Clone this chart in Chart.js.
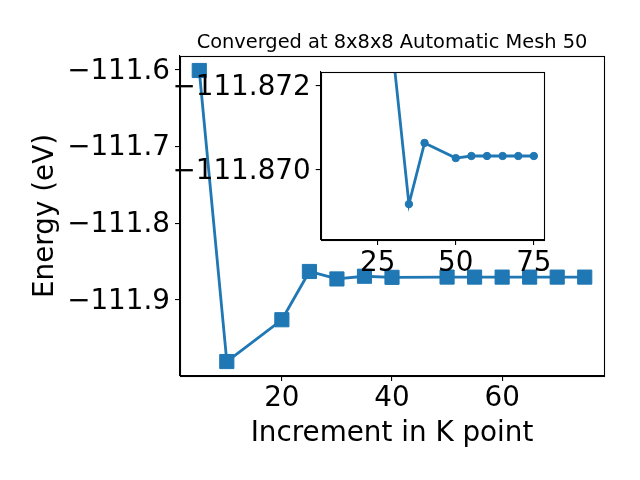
<!DOCTYPE html>
<html>
<head>
<meta charset="utf-8">
<script src="https://cdn.jsdelivr.net/npm/chart.js@4.4.1/dist/chart.umd.min.js"></script>
<style>
  body { margin: 0; background: #fff; }
  #wrap { position: relative; width: 640px; height: 480px; }
  #wrap canvas { position: absolute; left: 0; top: 0; }
</style>
</head>
<body>
<div id="wrap">
  <canvas id="mainChart" width="640" height="480"></canvas>
  <canvas id="insetChart" width="640" height="480"></canvas>
</div>
<script>
// --- Data ---
const kPoints = [5, 10, 20, 25, 30, 35, 40, 50, 55, 60, 65, 70, 75];
const energy = [-111.6015, -111.9802, -111.9258, -111.8630, -111.8727, -111.86919, -111.87064,
                -111.87028, -111.87033, -111.87033, -111.87033, -111.87033, -111.87033];
const mainXTicks = [20, 40, 60];
const mainYTicks = [-111.6, -111.7, -111.8, -111.9];
const insetStart = 4; // inset shows points from k = 30 on
const insetXTicks = [25, 50, 75];
const insetYTicks = [-111.872, -111.870];

const BLUE = '#1f77b4';
const FONT = 'DejaVu Sans';
const TICK_PX = 27.8;
Chart.defaults.font.family = FONT;
Chart.defaults.color = '#000';

const minus = (v, d) => v.toFixed(d).replace('-', '\u2212');

// white plot area + full frame like matplotlib spines
const framePlugin = {
    id: 'frame',
    beforeDraw(chart) {
        const a = chart.chartArea, ctx = chart.ctx;
        ctx.save();
        ctx.fillStyle = '#fff';
        ctx.fillRect(a.left, a.top, a.right - a.left, a.bottom - a.top);
        ctx.restore();
    },
    afterDraw(chart) {
        const a = chart.chartArea, ctx = chart.ctx;
        ctx.save();
        ctx.strokeStyle = '#000';
        ctx.lineWidth = 1.1;
        ctx.strokeRect(Math.round(a.left) + 0.5, Math.round(a.top) + 0.5,
                       Math.round(a.right - a.left), Math.round(a.bottom - a.top));
        ctx.restore();
    }
};

function axisGrid() {
    return { drawOnChartArea: false, drawTicks: true, tickLength: 5, color: '#000', lineWidth: 1.1 };
}

function points(from) {
    return kPoints.slice(from).map((k, i) => ({ x: k, y: energy[from + i] }));
}

// --- Main chart ---
new Chart(document.getElementById('mainChart'), {
    type: 'line',
    data: {
        datasets: [{
            data: points(0),
            borderColor: BLUE,
            backgroundColor: BLUE,
            borderWidth: 2.8,
            pointStyle: 'rect',
            pointRadius: 10,
            pointBorderWidth: 1,
            fill: false,
            tension: 0
        }]
    },
    options: {
        responsive: false,
        animation: false,
        layout: { padding: { top: 0, right: 36, left: 0, bottom: 0 } },
        plugins: {
            legend: { display: false },
            tooltip: { enabled: false },
            title: {
                display: true,
                fullSize: false,
                text: 'Converged at 8x8x8 Automatic Mesh 50',
                font: { size: 19.4, weight: 'normal' },
                padding: { top: 31, bottom: 1.7 }
            }
        },
        scales: {
            x: {
                type: 'linear',
                min: 1.5,
                max: 78.5,
                grid: axisGrid(),
                border: { display: true, color: '#000', width: 1.1 },
                ticks: { font: { size: TICK_PX }, padding: 1.5, callback: v => String(v) },
                afterBuildTicks: s => { s.ticks = mainXTicks.map(v => ({ value: v })); },
                afterFit: s => { s.height = 104; },
                title: {
                    display: true,
                    text: 'Increment in K point',
                    font: { size: TICK_PX },
                    padding: { top: 0, bottom: 30 }
                }
            },
            y: {
                min: -111.999,
                max: -111.5826,
                grid: axisGrid(),
                border: { display: true, color: '#000', width: 1.1 },
                ticks: { font: { size: TICK_PX }, padding: 5, labelOffset: 2, callback: v => minus(v, 1) },
                afterBuildTicks: s => { s.ticks = mainYTicks.map(v => ({ value: v })); },
                afterFit: s => { s.width = 180; },
                title: {
                    display: true,
                    text: 'Energy (eV)',
                    font: { size: TICK_PX },
                    padding: { top: 29.5, bottom: 0 }
                }
            }
        }
    },
    plugins: [framePlugin]
});

// --- Inset chart (zoom on the converged tail, y axis inverted) ---
new Chart(document.getElementById('insetChart'), {
    type: 'line',
    data: {
        datasets: [{
            data: points(insetStart),
            borderColor: BLUE,
            backgroundColor: BLUE,
            borderWidth: 2.8,
            pointStyle: 'circle',
            pointRadius: 3.7,
            pointBorderWidth: 1,
            fill: false,
            tension: 0
        }]
    },
    options: {
        responsive: false,
        animation: false,
        layout: { padding: { top: 72, right: 96, left: 0, bottom: 0 } },
        plugins: {
            legend: { display: false },
            tooltip: { enabled: false },
            title: { display: false }
        },
        scales: {
            x: {
                type: 'linear',
                min: 6.75,
                max: 78.25,
                grid: axisGrid(),
                border: { display: true, color: '#000', width: 1.1 },
                ticks: { font: { size: TICK_PX }, padding: 2, callback: v => String(v) },
                afterBuildTicks: s => { s.ticks = insetXTicks.map(v => ({ value: v })); },
                afterFit: s => { s.height = 240; }
            },
            y: {
                reverse: true,
                min: -111.87232,
                max: -111.86834,
                grid: axisGrid(),
                border: { display: true, color: '#000', width: 1.1 },
                ticks: { font: { size: TICK_PX }, padding: 5, labelOffset: 2, callback: v => minus(v, 3) },
                afterBuildTicks: s => { s.ticks = insetYTicks.map(v => ({ value: v })); },
                afterFit: s => { s.width = 320.7; }
            }
        }
    },
    plugins: [framePlugin]
});
</script>
</body>
</html>
